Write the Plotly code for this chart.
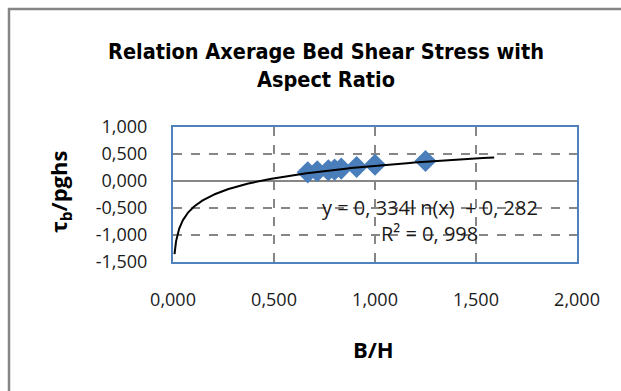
import numpy as np
import plotly.graph_objects as go

# ---- data ----
bh = [0.667, 0.714, 0.769, 0.800, 0.833, 0.909, 1.000, 1.250]
tau = [0.16, 0.18, 0.20, 0.21, 0.23, 0.26, 0.30, 0.37]
fit_a = 0.334   # slope of ln fit
fit_b = 0.282   # intercept
fit_x_start = 0.0075
fit_x_end = 1.59
x_ticks = [0.0, 0.5, 1.0, 1.5, 2.0]
x_labels = ["0,000", "0,500", "1,000", "1,500", "2,000"]
y_ticks = [-1.5, -1.0, -0.5, 0.0, 0.5, 1.0]
y_labels = ["-1,500", "-1,000", "-0,500", "0,000", "0,500", "1,000"]
title_text = "Relation Axerage Bed Shear Stress with<br>Aspect Ratio"
eq_text = "y = 0, 334l n(x)  + 0, 282"
r2_text = "R² = 0, 998"

W, H = 621, 391
L, R, T, B = 173, 577, 127, 262


def px(xp):
    return (xp - L) / (R - L)


def py(yp):
    return (B - yp) / (B - T)


fx = np.geomspace(fit_x_start, fit_x_end, 300)
fy = fit_a * np.log(fx) + fit_b

fig = go.Figure()
fig.add_trace(go.Scatter(x=bh, y=tau, mode="markers",
                         marker=dict(symbol="diamond", size=17, color="#4A7EBB",
                                     line=dict(width=0)),
                         showlegend=False, hoverinfo="skip"))
fig.add_trace(go.Scatter(x=fx, y=fy, mode="lines",
                         line=dict(color="black", width=2),
                         showlegend=False, hoverinfo="skip"))

tickfont = dict(family="Open Sans, Noto Sans, sans-serif", size=18, color="#1a1a1a")
fig.update_xaxes(range=[0, 2], tickvals=x_ticks, ticktext=x_labels, tickfont=tickfont,
                 showgrid=True, gridcolor="#868686", griddash="dash", gridwidth=1.5,
                 zeroline=False, showline=True, linecolor="#4F81BD", linewidth=2,
                 mirror=True, ticks="", ticklabelstandoff=20, fixedrange=True)
fig.update_yaxes(range=[-1.5, 1.0], tickvals=y_ticks, ticktext=y_labels, tickfont=tickfont,
                 showgrid=True, gridcolor="#868686", griddash="dash", gridwidth=1.5,
                 zeroline=True, zerolinecolor="#868686", zerolinewidth=2,
                 showline=True, linecolor="#4F81BD", linewidth=2,
                 mirror=True, ticks="", ticklabelstandoff=20, fixedrange=True)

annots = [
    dict(text="<b>" + title_text + "</b>", x=px(326), y=py(65), xref="paper", yref="paper",
         showarrow=False, xanchor="center", yanchor="middle",
         font=dict(family="Liberation Sans Narrow, DejaVu Sans Condensed, sans-serif",
                   size=21.5, color="black")),
    dict(text="<b>τ<sub>b</sub>/pghs</b>", x=px(60), y=py(192), xref="paper", yref="paper",
         showarrow=False, textangle=-90, xanchor="center", yanchor="middle",
         font=dict(family="Open Sans, Noto Sans, sans-serif", size=22, color="black")),
    dict(text="<b>B/H</b>", x=px(373), y=py(349), xref="paper", yref="paper",
         showarrow=False, xanchor="center", yanchor="middle",
         font=dict(family="Open Sans, Noto Sans, sans-serif", size=22, color="black")),
    dict(text=eq_text, x=px(430), y=py(207), xref="paper", yref="paper",
         showarrow=False, xanchor="center", yanchor="middle",
         font=dict(family="Open Sans, Noto Sans, sans-serif", size=20, color="#1a1a1a")),
    dict(text=r2_text, x=px(429), y=py(233), xref="paper", yref="paper",
         showarrow=False, xanchor="center", yanchor="middle",
         font=dict(family="Open Sans, Noto Sans, sans-serif", size=20, color="#1a1a1a")),
]

shapes = [
    dict(type="line", xref="paper", yref="paper", x0=px(8), x1=px(640), y0=py(9), y1=py(9),
         line=dict(color="#868686", width=2.5)),
    dict(type="line", xref="paper", yref="paper", x0=px(9), x1=px(9), y0=py(8), y1=py(400),
         line=dict(color="#868686", width=2.5)),
]

fig.update_layout(width=W, height=H, margin=dict(l=L, r=W - R, t=T, b=H - B),
                  paper_bgcolor="white", plot_bgcolor="white",
                  annotations=annots, shapes=shapes, showlegend=False)

fig.write_html("out.html", config={"displayModeBar": False})
